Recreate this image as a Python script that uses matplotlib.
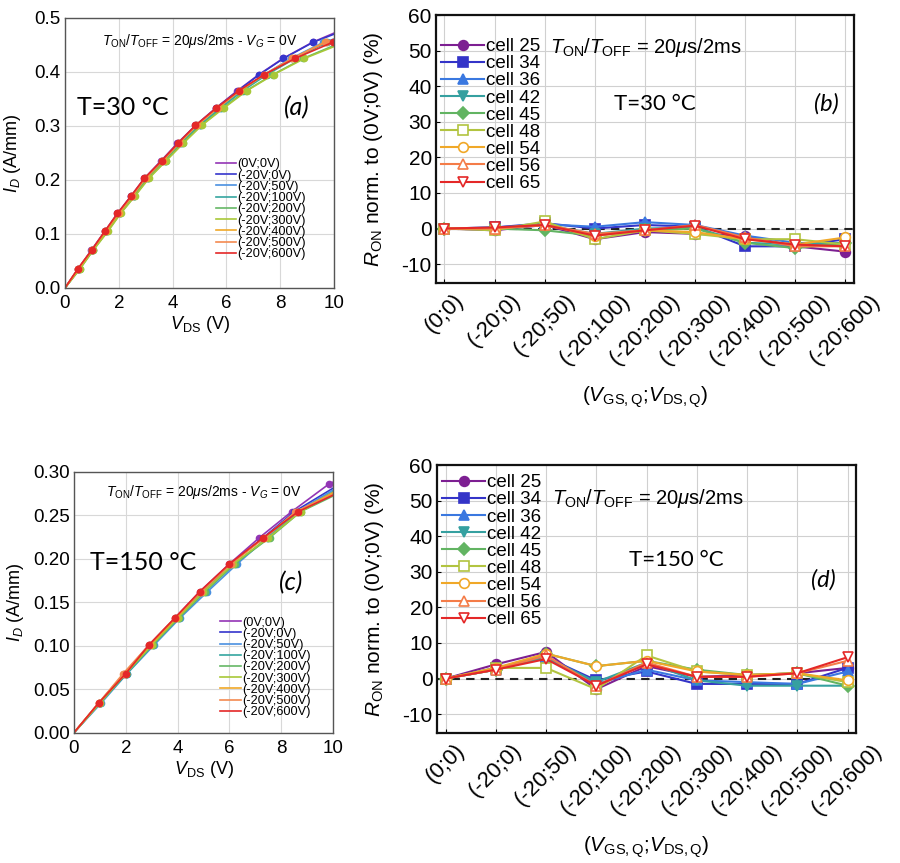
import matplotlib
matplotlib.use("Agg")
import matplotlib.pyplot as plt
import numpy as np

plt.rcParams['font.family'] = ['Liberation Sans', 'DejaVu Sans']
plt.rcParams['mathtext.fontset'] = 'custom'
plt.rcParams['mathtext.rm'] = 'Liberation Sans'
plt.rcParams['mathtext.it'] = 'Liberation Sans:italic'
plt.rcParams['mathtext.bf'] = 'Liberation Sans:bold'
plt.rcParams['axes.unicode_minus'] = False

# ---------------- data ----------------
iv_labels = ["(0V;0V)", "(-20V;0V)", "(-20V;50V)", "(-20V;100V)", "(-20V;200V)",
             "(-20V;300V)", "(-20V;400V)", "(-20V;500V)", "(-20V;600V)"]
iv_colors = ["#9335b5", "#3535cc", "#4a90e0", "#35a5a0", "#66b866",
             "#a8c838", "#f0a828", "#f48a50", "#e42828"]

# T = 30 C : marker current levels (A/mm) and V_DS of each marker
id_levels_30 = [0.035, 0.070, 0.105, 0.138, 0.170, 0.203, 0.236, 0.268,
                0.301, 0.333, 0.365, 0.395, 0.425, 0.455]
vds_30 = [
    [0.48, 0.98, 1.48, 1.95, 2.45, 2.95, 3.58, 4.18, 4.85, 5.60, 6.40, 7.20, 8.10, 9.20],
    [0.50, 1.00, 1.50, 1.97, 2.47, 2.97, 3.60, 4.20, 4.87, 5.62, 6.42, 7.22, 8.12, 9.22],
    [0.52, 1.03, 1.55, 2.05, 2.55, 3.07, 3.72, 4.32, 5.00, 5.75, 6.55, 7.40, 8.40, 9.60],
    [0.52, 1.02, 1.54, 2.03, 2.55, 3.05, 3.70, 4.30, 5.00, 5.78, 6.60, 7.50, 8.55, 9.75],
    [0.55, 1.05, 1.58, 2.06, 2.58, 3.10, 3.75, 4.37, 5.06, 5.86, 6.72, 7.72, 8.85],
    [0.55, 1.05, 1.60, 2.07, 2.60, 3.12, 3.77, 4.40, 5.08, 5.90, 6.75, 7.75, 8.90],
    [0.50, 1.00, 1.52, 2.00, 2.50, 3.00, 3.65, 4.25, 4.90, 5.68, 6.50, 7.42, 8.45, 9.65],
    [0.48, 1.00, 1.50, 1.98, 2.48, 2.98, 3.62, 4.22, 4.88, 5.65, 6.48, 7.40, 8.45, 9.70],
    [0.47, 0.99, 1.48, 1.95, 2.45, 2.95, 3.60, 4.20, 4.85, 5.62, 6.45, 7.40, 8.55, 9.95],
]
id_end_30 = [0.472, 0.470, 0.461, 0.459, 0.449, 0.447, 0.458, 0.457, 0.455]

# T = 150 C
id_levels_150 = [0.034, 0.068, 0.101, 0.132, 0.162, 0.194, 0.224, 0.254, 0.286]
vds_150 = [
    [0.95, 1.95, 2.90, 3.90, 4.85, 6.00, 7.15, 8.40, 9.85],
    [1.00, 2.00, 2.95, 3.95, 4.95, 6.05, 7.30, 8.50],
    [1.05, 2.05, 3.10, 4.10, 5.15, 6.30, 7.45, 8.60],
    [1.00, 2.05, 3.05, 4.05, 5.05, 6.20, 7.50, 8.70],
    [1.00, 2.00, 3.05, 4.05, 5.05, 6.20, 7.55, 8.75],
    [1.00, 2.00, 3.00, 4.00, 5.00, 6.15, 7.50, 8.75],
    [0.95, 1.95, 2.95, 3.95, 4.90, 6.05, 7.35, 8.60],
    [0.95, 1.90, 2.90, 3.90, 4.90, 6.05, 7.35, 8.55],
    [0.95, 2.00, 2.90, 3.90, 4.85, 6.00, 7.30, 8.65],
]
id_end_150 = [0.288, 0.281, 0.279, 0.277, 0.272, 0.275, 0.276, 0.274, 0.273]

conditions = ["(0;0)", "(-20;0)", "(-20;50)", "(-20;100)", "(-20;200)",
              "(-20;300)", "(-20;400)", "(-20;500)", "(-20;600)"]
cells = ["cell 25", "cell 34", "cell 36", "cell 42", "cell 45",
         "cell 48", "cell 54", "cell 56", "cell 65"]
cell_colors = ["#7d1f92", "#3434c8", "#3a78e0", "#35a0a0", "#62b462",
               "#b2c440", "#f0a828", "#f47c48", "#e42828"]
cell_markers = ["o", "s", "^", "v", "D", "s", "o", "^", "v"]
cell_filled = [True, True, True, True, True, False, False, False, False]

ron_30 = [
    [0, -0.5, 1.0, -3.0, -1.0, -1.5, -2.0, -5.0, -6.5],   # 25
    [0, 0.3, 1.5, 0.0, 1.0, 0.5, -5.0, -5.0, -3.0],       # 34
    [0, 0.3, 1.2, 0.5, 1.8, 1.0, -2.0, -4.0, -4.5],       # 36
    [0, 0.2, 1.0, -1.5, 0.0, 0.3, -4.0, -4.5, -4.0],      # 42
    [0, 0.0, -0.5, -2.0, -0.5, 0.0, -4.0, -5.5, -4.0],    # 45
    [0, -0.5, 2.0, -3.0, -0.5, -1.5, -3.0, -3.0, -4.5],   # 48
    [0, 0.0, 1.0, -2.0, -0.5, -1.0, -3.0, -4.5, -2.5],    # 54
    [0, 0.0, 1.0, -1.5, -0.5, 1.0, -2.5, -5.0, -5.0],     # 56
    [0, 0.3, 1.0, -2.0, -0.5, 0.8, -3.0, -4.5, -5.0],     # 65
]
ron_150 = [
    [0, 4.0, 7.5, -3.0, 3.5, 0.5, 1.0, 1.5, 3.0],         # 25
    [0, 3.0, 6.0, -0.5, 2.0, -1.5, -1.5, -1.5, 3.0],      # 34
    [0, 2.5, 6.0, -1.5, 2.5, -0.5, -1.0, -1.5, 2.0],      # 36
    [0, 2.5, 6.0, -1.0, 4.5, -0.5, -2.0, -2.0, -2.0],     # 42
    [0, 2.5, 7.0, 3.5, 5.0, 2.5, 1.0, 1.5, -2.0],         # 45
    [0, 3.0, 3.0, -3.0, 6.5, 2.0, 1.0, 1.5, -1.0],        # 48
    [0, 3.0, 7.0, 3.5, 5.0, 2.0, 1.0, 1.5, -0.5],         # 54
    [0, 2.5, 6.5, -2.0, 4.5, 0.5, 0.5, 1.5, 5.0],         # 56
    [0, 2.5, 5.5, -2.0, 4.0, 0.5, 0.5, 1.5, 6.0],         # 65
]

# ---------------- figure ----------------
fig = plt.figure(figsize=(9.0, 8.63), dpi=100)
fig.patch.set_facecolor("white")

TON = r"$T_{\rm ON}/T_{\rm OFF}$ = 20$\mu$s/2ms"
ann_font = ['Lato', 'DejaVu Sans']


def iv_panel(rect, levels, vds, ends, ylim, yticks, yfmt, tlabel, plabel,
             tpos, ppos, annpos, legpos, ylab_x, xlab_y):
    ax = fig.add_axes(rect)
    for lab, col, v, e in zip(iv_labels, iv_colors, vds, ends):
        xs = [0.0] + list(v) + [10.0]
        ys = [0.0] + list(levels[:len(v)]) + [e]
        ax.plot(xs, ys, color=col, lw=1.2, label=lab)
        ax.plot(v, levels[:len(v)], ls='none', marker='o', ms=4.5,
                color=col, mec=col)
    ax.set_xlim(0, 10)
    ax.set_ylim(*ylim)
    ax.set_xticks([0, 2, 4, 6, 8, 10])
    ax.set_yticks(yticks)
    ax.set_yticklabels([yfmt.format(t) for t in yticks])
    ax.grid(True, color="#d8d8d8", lw=0.8)
    ax.set_axisbelow(True)
    ax.tick_params(labelsize=13.5, length=0)
    ax.tick_params(axis='x', pad=5)
    ax.tick_params(axis='y', pad=3)
    for s in ax.spines.values():
        s.set_color("#555555")
        s.set_linewidth(1.0)
    ax.set_xlabel(r"$V_{\rm DS}$ (V)", fontsize=13)
    ax.xaxis.set_label_coords(0.5, xlab_y)
    ax.set_ylabel(r"$I_D$ (A/mm)", fontsize=13)
    ax.yaxis.set_label_coords(ylab_x, 0.5)
    ax.text(annpos[0], annpos[1], TON + r" - $V_G$ = 0V", transform=ax.transAxes,
            ha='center', va='center', fontsize=10)
    ax.text(tpos[0], tpos[1], tlabel, transform=ax.transAxes, ha='left',
            va='center', fontsize=18, family=ann_font)
    ax.text(ppos[0], ppos[1], plabel, transform=ax.transAxes, ha='center',
            va='center', fontsize=18, style='italic', family=ann_font)
    ax.legend(loc='upper left', bbox_to_anchor=legpos, frameon=False,
              fontsize=9.2, handlelength=1.6, handletextpad=0.1,
              labelspacing=-0.06, borderpad=0, borderaxespad=0)
    return ax


def ron_panel(rect, data, tlabel, plabel, tpos, ppos, annpos, legpos):
    ax = fig.add_axes(rect)
    x = np.arange(len(conditions))
    ax.axhline(0, color='#222222', ls=(0, (4, 3)), lw=1.5, zorder=1)
    for lab, col, m, f, vals in zip(cells, cell_colors, cell_markers,
                                    cell_filled, data):
        ms = 7 if m != 'D' else 6
        ax.plot(x, vals, color=col, lw=1.5, marker=m, ms=ms,
                mfc=col if f else 'white', mec=col, mew=1.2, label=lab,
                zorder=3)
    ax.set_xlim(-0.17, 8.17)
    ax.set_ylim(-15.3, 60)
    ax.set_yticks(np.arange(-10, 61, 10))
    ax.set_xticks(x)
    ax.set_xticklabels(conditions, rotation=45, ha='center', fontsize=16)
    ax.grid(True, color="#d0d0d0", lw=0.8)
    ax.set_axisbelow(True)
    ax.tick_params(axis='y', labelsize=15, direction='in', length=3, pad=3)
    ax.tick_params(axis='x', direction='in', length=3, pad=5)
    for s in ax.spines.values():
        s.set_color("#111111")
        s.set_linewidth(1.6)
    ax.set_ylabel(r"$R_{\rm ON}$ norm. to (0V;0V) (%)", fontsize=15)
    ax.yaxis.set_label_coords(-0.122, 0.5)
    ax.set_xlabel(r"($V_{\rm GS,Q}$;$V_{\rm DS,Q}$)", fontsize=15)
    ax.xaxis.set_label_coords(0.5, -0.38)
    ax.text(annpos[0], annpos[1], TON, transform=ax.transAxes, ha='left',
            va='center', fontsize=14.5)
    ax.text(tpos[0], tpos[1], tlabel, transform=ax.transAxes, ha='center',
            va='center', fontsize=16, family=ann_font)
    ax.text(ppos[0], ppos[1], plabel, transform=ax.transAxes, ha='center',
            va='center', fontsize=17, style='italic', family=ann_font)
    ax.legend(loc='upper left', bbox_to_anchor=legpos, frameon=False,
              fontsize=13.5, handlelength=2.3, handletextpad=0.1,
              labelspacing=0.0, borderpad=0, borderaxespad=0)
    return ax


iv_panel([0.0722, 0.6663, 0.299, 0.3129], id_levels_30, vds_30, id_end_30,
         (0, 0.5), [0.0, 0.1, 0.2, 0.3, 0.4, 0.5], "{:.1f}", "T=30 °C", "(a)",
         (0.045, 0.667), (0.86, 0.667), (0.50, 0.915), (0.56, 0.48), -0.155,
         -0.096)

ron_panel([0.4844, 0.6721, 0.4644, 0.3105], ron_30, "T=30 °C", "(b)",
          (0.524, 0.668), (0.935, 0.668), (0.273, 0.88), (0.012, 0.914))

iv_panel([0.0822, 0.151, 0.2878, 0.3024], id_levels_150, vds_150, id_end_150,
         (0, 0.30), [0.0, 0.05, 0.10, 0.15, 0.20, 0.25, 0.30], "{:.2f}",
         "T=150 °C", "(c)",
         (0.06, 0.654), (0.838, 0.574), (0.50, 0.922), (0.565, 0.445), -0.185,
         -0.10)

ron_panel([0.4856, 0.1506, 0.4656, 0.3105], ron_150, "T=150 °C", "(d)",
          (0.57, 0.645), (0.921, 0.571), (0.274, 0.877), (0.012, 0.966))

fig.savefig("out.png", dpi=100)
